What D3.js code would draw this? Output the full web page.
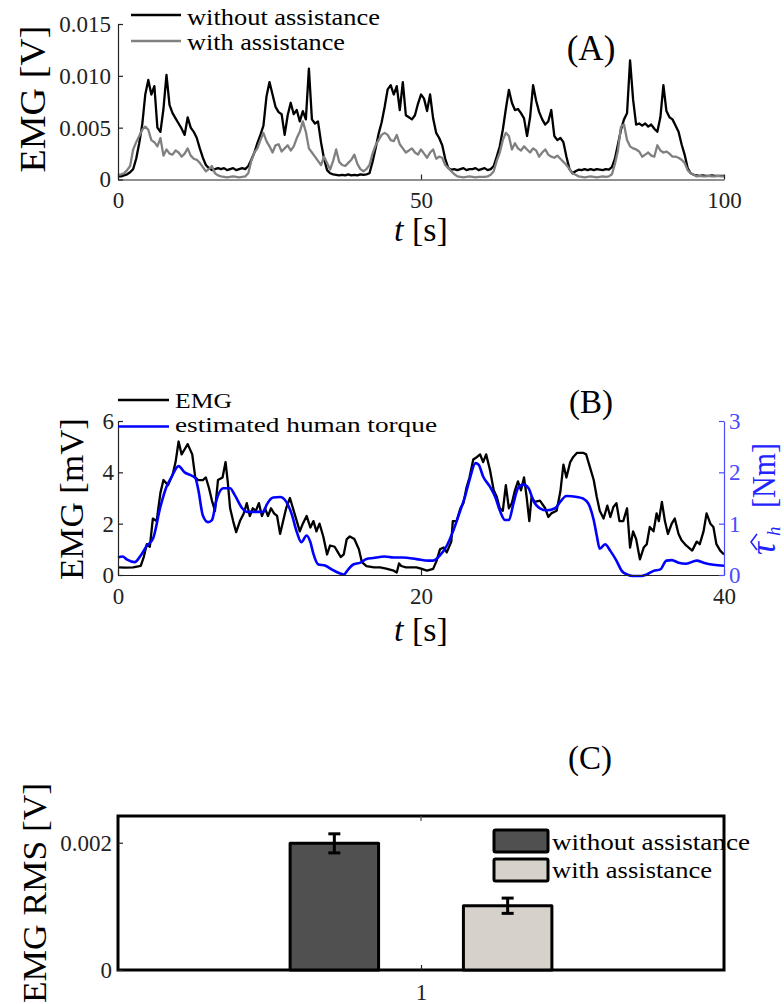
<!DOCTYPE html>
<html><head><meta charset="utf-8">
<script src="https://cdn.jsdelivr.net/npm/d3@7"></script>
<style>body{margin:0;background:#fff} svg{display:block} text{font-family:"Liberation Serif","Times New Roman",serif}</style>
</head><body><svg id="c" width="784" height="1004"></svg>
<script>
// ---------- Panel A data (EMG in mV, sampled every 0.5 s) ----------
const stepA = 0.5;
const emgWithoutA = [
0.3,0.3,0.4,0.5,0.7,1.0,2.0,3.5,5.3,8.2,
9.6,8.2,9.0,5.0,4.6,6.8,10.1,7.2,6.4,5.9,
5.4,4.9,4.3,6.0,5.0,4.6,4.0,3.0,2.1,1.4,
1.1,0.9,1.0,1.1,1.0,1.1,0.9,1.0,1.1,0.9,
1.0,1.1,1.0,1.3,1.9,2.6,3.5,4.3,5.2,8.0,
9.4,8.2,7.0,6.5,6.3,4.3,6.2,7.4,6.3,6.7,
5.6,6.6,5.8,10.7,5.8,5.4,5.6,3.6,2.0,0.9,
0.6,0.5,0.45,0.4,0.45,0.4,0.5,0.4,0.45,0.4,
0.5,0.45,0.5,0.6,1.7,3.0,4.4,5.5,7.0,8.7,
9.1,8.2,9.0,6.7,9.4,6.2,6.0,5.8,6.2,7.3,
8.2,7.8,6.6,8.2,5.9,4.5,4.0,3.3,2.0,1.1,
0.95,1.0,0.9,1.0,1.1,0.9,1.0,1.0,1.1,0.9,
1.0,1.1,0.9,1.0,1.3,2.2,3.2,4.8,6.8,8.65,
7.4,6.7,6.8,6.4,5.9,4.2,6.0,9.1,7.6,6.5,
5.8,5.3,5.6,6.7,4.2,3.8,4.0,3.6,2.2,1.0,
0.6,0.8,0.95,0.9,1.0,0.9,1.0,0.9,1.0,0.95,
0.9,1.0,0.95,1.2,2.0,3.4,4.8,5.8,6.4,11.5,
7.7,5.3,5.4,5.2,5.4,5.1,5.3,4.9,4.6,6.0,
9.1,6.6,6.0,5.8,5.2,4.6,3.4,2.4,1.1,0.6,
0.45,0.4,0.35,0.4,0.35,0.35,0.4,0.35,0.35,0.35,
0.35];
const emgWithA = [
0.45,0.5,0.6,0.9,1.3,2.9,3.6,4.2,4.8,5.1,
4.8,3.8,3.6,3.2,4.0,2.3,2.9,2.5,2.4,2.8,
2.6,2.2,2.5,3.0,2.3,2.0,1.9,1.6,1.2,0.8,
1.0,1.3,0.6,0.4,0.3,0.25,0.2,0.25,0.3,0.25,
0.2,0.25,0.3,0.6,1.8,2.6,3.0,3.8,4.5,3.7,
3.2,2.6,3.3,3.4,2.7,3.0,3.3,2.8,3.2,4.0,
4.6,5.6,4.6,3.0,2.6,2.2,1.8,1.4,2.2,1.6,
0.96,1.8,2.9,1.7,1.4,1.3,1.6,1.9,2.4,1.5,
1.0,0.8,1.0,1.4,2.5,3.3,3.8,4.3,4.5,4.3,
3.8,3.7,4.3,3.4,3.0,2.6,2.8,3.0,2.6,2.4,
2.9,2.5,2.1,2.6,2.9,2.0,2.2,2.1,1.4,1.1,
0.8,0.5,0.3,0.25,0.2,0.25,0.3,0.25,0.2,0.25,
0.25,0.25,0.3,0.45,0.8,1.8,2.6,3.8,4.5,4.2,
2.9,3.5,3.0,2.8,3.2,2.9,2.6,3.0,2.8,2.2,
2.6,2.9,2.4,2.2,2.1,2.3,2.0,1.7,1.4,1.0,
0.6,0.45,0.3,0.25,0.2,0.25,0.3,0.25,0.2,0.25,
0.3,0.25,0.3,0.5,1.5,2.8,5.1,5.3,3.8,3.2,
3.0,2.9,2.7,2.2,2.4,2.6,2.3,2.2,3.3,2.8,
2.6,2.7,2.5,2.2,2.2,2.1,1.9,1.6,0.9,0.6,
0.45,0.3,0.35,0.3,0.3,0.35,0.3,0.3,0.35,0.3,
0.3];
const yTicksA = [0, 0.005, 0.010, 0.015];
const xTicksA = [0, 50, 100];
const legendA = ["without assistance", "with assistance"];

// ---------- Panel B data ----------
const timesEmgB = [0,0.5,1.0,1.5,1.7,1.9,2.1,2.3,2.55,2.8,3.0,3.3,3.6,3.8,4.0,4.2,4.4,4.6,4.9,5.1,5.3,5.6,5.8,6.0,6.2,6.4,6.6,6.9,7.1,7.25,7.4,7.6,7.8,8.05,8.3,8.5,8.7,8.9,9.1,9.3,9.5,9.7,9.9,10.1,10.3,10.5,10.7,10.9,11.1,11.35,11.6,11.8,12.0,12.2,12.45,12.7,12.9,13.1,13.3,13.55,13.8,14.0,14.3,14.5,14.7,14.9,15.1,15.3,15.6,15.9,16.1,16.4,16.9,17.3,17.7,18.2,18.4,18.55,18.7,19.0,19.3,19.7,20.0,20.4,20.8,21.03,21.25,21.5,21.7,22.0,22.1,22.35,22.6,22.8,23.0,23.2,23.45,23.7,23.9,24.1,24.3,24.55,24.8,25.0,25.2,25.4,25.6,25.8,26.0,26.2,26.4,26.6,26.8,26.97,27.15,27.3,27.5,27.85,28.2,28.4,28.6,28.95,29.2,29.4,29.6,29.85,30.05,30.3,30.7,30.9,31.15,31.4,31.6,31.8,32.05,32.3,32.5,32.7,32.9,33.1,33.35,33.6,33.8,34.0,34.2,34.45,34.7,34.9,35.1,35.35,35.55,35.7,35.9,36.1,36.3,36.55,36.75,37.0,37.2,37.5,37.9,38.2,38.4,38.65,38.85,39.1,39.3,39.5,39.75,40];
const emgB = [0.3,0.29,0.3,0.36,0.7,1.2,1.1,2.2,2.1,3.2,3.7,3.5,3.9,4.4,5.2,4.7,4.9,5.1,4.7,3.8,3.7,3.7,3.8,3.4,2.9,2.5,3.7,3.8,4.4,3.6,2.6,2.1,1.67,2.1,2.4,2.8,2.3,2.6,2.5,2.8,2.3,2.6,2.3,2.6,2.4,2.3,1.6,2.1,2.6,3.0,2.5,2.1,1.7,2.0,2.3,1.85,2.1,1.7,2.0,1.5,0.8,1.15,1.1,0.9,0.7,0.8,1.4,1.5,1.4,1.0,0.5,0.35,0.3,0.3,0.25,0.17,0.1,0.45,0.35,0.3,0.3,0.3,0.25,0.17,0.24,0.55,1.0,1.07,0.88,1.3,2.1,2.1,2.6,2.8,3.4,3.8,4.5,4.6,4.7,4.4,4.7,4.1,3.3,3.05,2.6,2.5,3.5,2.6,2.8,3.3,3.65,3.3,3.8,3.05,2.1,3.05,2.85,2.9,2.6,2.26,2.4,2.5,3.25,4.3,3.8,4.4,4.6,4.76,4.76,4.7,4.2,3.7,3.05,2.5,2.2,2.7,2.26,2.65,2.8,2.1,2.1,2.6,1.07,1.7,1.4,0.61,1.07,1.2,1.87,1.7,2.4,2.1,2.85,2.1,1.6,2.0,2.2,1.6,1.35,1.15,0.95,1.3,1.2,1.7,2.4,2.0,1.87,1.2,0.95,0.8];
const timesTorqueB = [0,0.3,0.6,1.1,1.5,1.9,2.3,2.8,3.2,3.5,4.0,4.4,4.75,5.1,5.3,5.6,5.95,6.2,6.5,6.95,7.4,7.7,8.2,8.5,9.15,9.6,9.8,10.25,10.7,11.1,11.45,11.8,12.1,12.45,12.7,12.9,13.2,13.7,14.1,14.5,14.9,15.2,15.5,16.0,16.4,16.85,17.6,18.2,18.8,19.7,20.5,20.8,21.25,21.7,22.1,22.6,22.9,23.2,23.6,23.8,24.1,24.55,24.9,25.2,25.55,25.8,26.1,26.4,26.75,27.1,27.4,27.85,28.3,28.85,29.2,29.6,30.3,30.7,31.05,31.4,31.6,31.8,32.15,32.5,32.9,33.25,33.6,34.0,34.55,34.9,35.35,35.8,36.2,36.55,37.0,37.5,38.2,38.65,39.3,40];
const torqueB = [0.34,0.36,0.3,0.25,0.38,0.57,0.7,1.33,1.72,1.89,2.12,2.0,1.95,1.89,1.66,1.16,1.03,1.07,1.46,1.69,1.69,1.56,1.3,1.23,1.23,1.23,1.36,1.51,1.52,1.43,1.2,0.84,0.64,0.77,0.64,0.41,0.21,0.18,0.11,0.05,0.01,0.11,0.2,0.24,0.31,0.33,0.36,0.34,0.34,0.31,0.28,0.28,0.38,0.57,0.84,1.26,1.52,1.85,2.18,2.15,1.92,1.72,1.52,1.26,1.07,1.07,1.39,1.69,1.76,1.69,1.46,1.3,1.26,1.3,1.43,1.54,1.52,1.49,1.39,1.07,0.77,0.51,0.6,0.47,0.28,0.08,0.01,-0.02,-0.02,0.01,0.08,0.11,0.28,0.29,0.24,0.22,0.28,0.24,0.2,0.18];
const yTicksB = [0, 2, 4, 6];
const yTicksBRight = [0, 1, 2, 3];
const xTicksB = [0, 20, 40];
const legendB = ["EMG", "estimated human torque"];

// ---------- Panel C data ----------
const groupsC = [1];
const seriesC = ["without assistance", "with assistance"];
const rmsC = [0.00199, 0.00101];
const rmsErrC = [0.00015, 0.00012];
const yTicksC = [0, 0.002];

// ---------- drawing ----------
const FONT = '"Liberation Serif","Times New Roman",serif';
const svg = d3.select('#c');
svg.append('rect').attr('width',784).attr('height',1004).attr('fill','#fff');

function styleAxis(g, color, size) {
  g.attr('font-family', FONT).attr('font-size', size);
  g.select('.domain').attr('stroke', color).attr('stroke-width', 1.2);
  g.selectAll('.tick line').attr('stroke', color).attr('stroke-width', 1.2);
  g.selectAll('.tick text').attr('fill', color).attr('font-family', FONT).attr('font-size', size);
}
function rotLabel(x, y, txt, size, len, color) {
  return svg.append('text').attr('transform', `translate(${x},${y}) rotate(-90)`)
    .attr('text-anchor','middle').attr('font-family',FONT).attr('font-size',size)
    .attr('fill', color || '#000').attr('textLength', len).attr('lengthAdjust','spacingAndGlyphs').text(txt);
}
function tLabel(x, y, size) {
  const t = svg.append('text').attr('x', x).attr('y', y).attr('text-anchor','middle')
    .attr('font-family', FONT).attr('font-size', size);
  t.append('tspan').attr('font-style','italic').text('t');
  t.append('tspan').text(' [s]');
}
function legText(x, y, txt, len, size) {
  svg.append('text').attr('x', x).attr('y', y).attr('font-family', FONT).attr('font-size', size || 24)
    .attr('textLength', len).attr('lengthAdjust','spacingAndGlyphs').text(txt);
}
const fmt = d => d === 0 ? '0' : d3.format('.3f')(d);

// ===== Panel A =====
const xA = d3.scaleLinear([0, 100], [118, 724]);
const yA = d3.scaleLinear([0, 0.015], [179.5, 24]);
const lineA = d3.line().x((d, i) => xA(i * stepA)).y(d => yA(d / 1000));
svg.append('path').datum(emgWithoutA).attr('d', lineA).attr('fill','none').attr('stroke','#000').attr('stroke-width',2.3).attr('stroke-linejoin','round');
svg.append('path').datum(emgWithA).attr('d', lineA).attr('fill','none').attr('stroke','#808080').attr('stroke-width',2.3).attr('stroke-linejoin','round');
const gAx = svg.append('g').attr('transform','translate(0,179.5)')
  .call(d3.axisBottom(xA).tickValues(xTicksA).tickFormat(d3.format('d')).tickSizeInner(-5).tickSizeOuter(0).tickPadding(12));
styleAxis(gAx, '#222', 23);
const gAy = svg.append('g').attr('transform','translate(118,0)')
  .call(d3.axisLeft(yA).tickValues(yTicksA).tickFormat(fmt).tickSizeInner(-5).tickSizeOuter(0).tickPadding(7));
styleAxis(gAy, '#222', 23);
rotLabel(45, 99, 'EMG [V]', 36, 147);
tLabel(421, 241, 34);
svg.append('text').attr('x', 591).attr('y', 60).attr('text-anchor','middle').attr('font-family',FONT).attr('font-size',35).text('(A)');
// legend A
const legColorsA = ['#000', '#808080'];
const legYA = [15, 41];
legendA.forEach((s, i) => {
  svg.append('line').attr('x1',131).attr('x2',181).attr('y1',legYA[i]).attr('y2',legYA[i]).attr('stroke',legColorsA[i]).attr('stroke-width',2.5);
});
legText(187, 25, legendA[0], 193);
legText(187, 50, legendA[1], 158);

// ===== Panel B =====
const xB = d3.scaleLinear([0, 40], [118, 724]);
const yB = d3.scaleLinear([0, 6], [575, 421]);
const yBR = d3.scaleLinear([0, 3], [575, 421]);
svg.append('path').datum(emgB).attr('d', d3.line().x((d, i) => xB(timesEmgB[i])).y(d => yB(d)))
  .attr('fill','none').attr('stroke','#000').attr('stroke-width',2.3).attr('stroke-linejoin','round');
svg.append('path').datum(torqueB).attr('d', d3.line().curve(d3.curveMonotoneX).x((d, i) => xB(timesTorqueB[i])).y(d => yBR(d)))
  .attr('fill','none').attr('stroke','#0000ff').attr('stroke-width',2.6);
const gBx = svg.append('g').attr('transform','translate(0,575)')
  .call(d3.axisBottom(xB).tickValues(xTicksB).tickFormat(d3.format('d')).tickSizeInner(-5).tickSizeOuter(0).tickPadding(13));
styleAxis(gBx, '#222', 23);
const gBy = svg.append('g').attr('transform','translate(118,0)')
  .call(d3.axisLeft(yB).tickValues(yTicksB).tickFormat(d3.format('d')).tickSizeInner(-5).tickSizeOuter(0).tickPadding(4));
styleAxis(gBy, '#222', 23);
const gByr = svg.append('g').attr('transform','translate(724,0)')
  .call(d3.axisRight(yBR).tickValues(yTicksBRight).tickFormat(d3.format('d')).tickSizeInner(-5).tickSizeOuter(0).tickPadding(5));
styleAxis(gByr, '#4a4aff', 23);
rotLabel(83, 499, 'EMG [mV]', 33, 162);
tLabel(421, 641, 34);
svg.append('text').attr('x', 591).attr('y', 413).attr('text-anchor','middle').attr('font-family',FONT).attr('font-size',33).text('(B)');
// right label: hat-tau_h [Nm], rotated
{
  const rg = svg.append('g').attr('transform','translate(775,555) rotate(-90)').attr('fill','#2323ff');
  rg.append('text').attr('x', 0).attr('y', 0).attr('font-family',FONT).attr('font-size',36).attr('font-style','italic').text('\u03C4');
  rg.append('path').attr('d','M5,-18 L13,-24 L21,-18').attr('fill','none').attr('stroke','#2323ff').attr('stroke-width',1.6);
  rg.append('text').attr('x', 19).attr('y', 5).attr('font-family',FONT).attr('font-size',19).attr('font-style','italic').text('h');
  rg.append('text').attr('x', 47).attr('y', 0).attr('font-family',FONT).attr('font-size',33)
    .attr('textLength', 65).attr('lengthAdjust','spacingAndGlyphs').text('[Nm]');
}
// legend B
const legColorsB = ['#000', '#0000ff'];
const legYB = [400, 426.5];
legendB.forEach((s, i) => {
  svg.append('line').attr('x1',118).attr('x2',169).attr('y1',legYB[i]).attr('y2',legYB[i]).attr('stroke',legColorsB[i]).attr('stroke-width',2.5);
});
legText(175, 408, legendB[0], 57, 22);
legText(175, 432, legendB[1], 262, 22);

// ===== Panel C =====
const xC = d3.scaleLinear([0.5, 1.5], [118, 724]);
const yC = d3.scaleLinear([0, 0.00242], [970, 816]);
const barOff = [-0.143, 0.143];
const barW = 0.146;
const barFill = ['#505050', '#d6d2cb'];
svg.append('rect').attr('x',118).attr('y',yC(0.00242)).attr('width',xC(1.5)-xC(0.5)).attr('height',yC(0)-yC(0.00242))
  .attr('fill','none').attr('stroke','#000').attr('stroke-width',3);
seriesC.forEach((s, i) => {
  const cx = xC(groupsC[0] + barOff[i]);
  const w = xC(1 + barW) - xC(1);
  svg.append('rect').attr('x', cx - w / 2).attr('y', yC(rmsC[i])).attr('width', w).attr('height', yC(0) - yC(rmsC[i]))
    .attr('fill', barFill[i]).attr('stroke','#000').attr('stroke-width',3).attr('stroke-linejoin','round');
  const y1 = yC(rmsC[i] + rmsErrC[i]), y2 = yC(rmsC[i] - rmsErrC[i]);
  const eb = svg.append('g').attr('stroke','#000').attr('stroke-width',3);
  eb.append('line').attr('x1',cx).attr('x2',cx).attr('y1',y1).attr('y2',y2);
  eb.append('line').attr('x1',cx-6).attr('x2',cx+6).attr('y1',y1).attr('y2',y1);
  eb.append('line').attr('x1',cx-6).attr('x2',cx+6).attr('y1',y2).attr('y2',y2);
});
const gCx = svg.append('g').attr('transform','translate(0,970)')
  .call(d3.axisBottom(xC).tickValues(groupsC).tickFormat(d3.format('d')).tickSizeInner(-5).tickSizeOuter(0).tickPadding(14));
styleAxis(gCx, '#222', 23);
gCx.select('.domain').remove();
svg.append('line').attr('x1',xC(1)).attr('x2',xC(1)).attr('y1',yC(0.00242)).attr('y2',yC(0.00242)+5).attr('stroke','#444').attr('stroke-width',1.2);
const gCy = svg.append('g').attr('transform','translate(118,0)')
  .call(d3.axisLeft(yC).tickValues(yTicksC).tickFormat(d => d === 0 ? '0' : d3.format('.3f')(d)).tickSizeInner(-5).tickSizeOuter(0).tickPadding(6));
styleAxis(gCy, '#222', 23);
gCy.select('.domain').remove();
rotLabel(46, 893, 'EMG RMS [V]', 33, 220);
svg.append('text').attr('x', 590).attr('y', 769).attr('text-anchor','middle').attr('font-family',FONT).attr('font-size',33).text('(C)');
// legend C
const legYC = [830, 859];
seriesC.forEach((s, i) => {
  svg.append('rect').attr('x',494).attr('y',legYC[i]).attr('width',54).attr('height',22)
    .attr('fill',barFill[i]).attr('stroke','#000').attr('stroke-width',3).attr('rx',1.5);
});
legText(552, 850, seriesC[0], 198);
legText(552, 878, seriesC[1], 160);
</script></body></html>
